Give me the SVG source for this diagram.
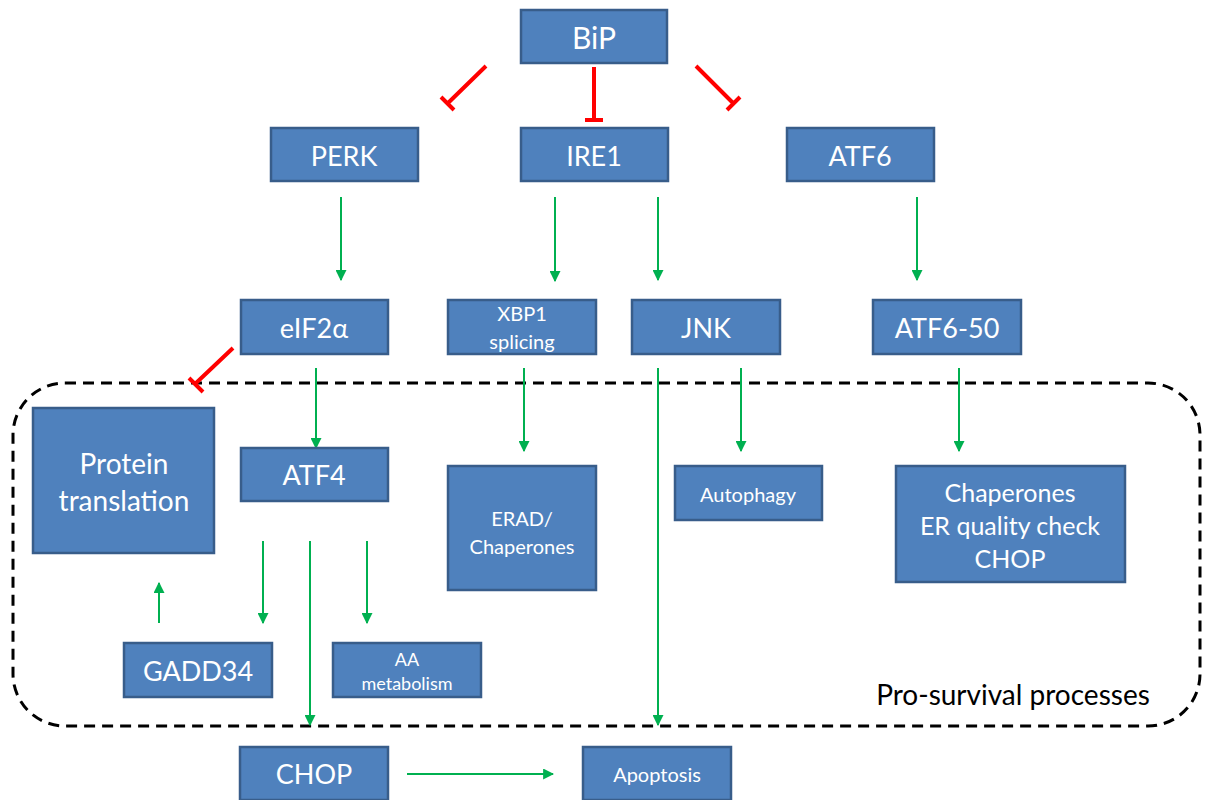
<svg xmlns="http://www.w3.org/2000/svg" width="1206" height="800" viewBox="0 0 1206 800">
<defs>
<marker id="ah" viewBox="0 0 10 10" refX="9" refY="5" markerWidth="5.5" markerHeight="5.5" orient="auto" markerUnits="strokeWidth"><path d="M0,0 L10,5 L0,10 z" fill="#00B050"/></marker>
<style>
.box{fill:#4F81BD;stroke:#385D8A;stroke-width:2.5}
.t{font-family:Lato,"Open Sans",sans-serif;fill:#fff;text-anchor:middle;dominant-baseline:central}
.act{stroke:#00B050;stroke-width:2;fill:none;marker-end:url(#ah)}
.inh{stroke:#FF0000;stroke-width:4;fill:none}
</style>
</defs>
<rect x="0" y="0" width="1206" height="800" fill="#fff"/>
<rect x="13" y="383" width="1187" height="343" rx="52" ry="52" fill="none" stroke="#000" stroke-width="3" stroke-dasharray="11,7"/>
<text x="1013" y="694" font-family="Lato,'Open Sans',sans-serif" font-size="28" fill="#000" text-anchor="middle" dominant-baseline="central">Pro-survival processes</text>
<g id="connectors">
<path class="inh" d="M486,66 L447,104 M441,97 L454,110"/>
<path class="inh" d="M594,67 L594,120 M585,120 L603,120"/>
<path class="inh" d="M696,66 L734,104 M727,110 L740,97"/>
<path class="inh" d="M233,348 L195,384 M189,378 L203,392"/>
<line class="act" x1="341" y1="197" x2="341" y2="280"/>
<line class="act" x1="555" y1="197" x2="555" y2="281"/>
<line class="act" x1="658" y1="197" x2="658" y2="280"/>
<line class="act" x1="917" y1="197" x2="917" y2="280"/>
<line class="act" x1="316" y1="368" x2="316" y2="448"/>
<line class="act" x1="524" y1="368" x2="524" y2="451"/>
<line class="act" x1="658" y1="368" x2="658" y2="725"/>
<line class="act" x1="741" y1="368" x2="741" y2="451"/>
<line class="act" x1="959" y1="368" x2="959" y2="451"/>
<line class="act" x1="263" y1="541" x2="263" y2="623"/>
<line class="act" x1="310" y1="541" x2="310" y2="725"/>
<line class="act" x1="367" y1="541" x2="367" y2="623"/>
<line class="act" x1="159" y1="623" x2="159" y2="583"/>
<line class="act" x1="407" y1="774" x2="553" y2="774"/>
</g>
<g id="bip"><rect class="box" x="521" y="10" width="146" height="53"/><text class="t" x="594" y="37" font-size="30">BiP</text></g>
<g id="perk"><rect class="box" x="271" y="128" width="147" height="53"/><text class="t" x="344" y="155" font-size="27">PERK</text></g>
<g id="ire1"><rect class="box" x="521" y="128" width="147" height="53"/><text class="t" x="594" y="155" font-size="27">IRE1</text></g>
<g id="atf6"><rect class="box" x="787" y="128" width="147" height="53"/><text class="t" x="860" y="155" font-size="27">ATF6</text></g>
<g id="eif2a"><rect class="box" x="241" y="300" width="147" height="54"/><text class="t" x="314" y="327" font-size="27">eIF2α</text></g>
<g id="xbp1"><rect class="box" x="448" y="300" width="148" height="54"/><text class="t" x="522" y="313" font-size="20">XBP1</text><text class="t" x="522" y="341" font-size="20">splicing</text></g>
<g id="jnk"><rect class="box" x="632" y="300" width="148" height="54"/><text class="t" x="706" y="327" font-size="27">JNK</text></g>
<g id="atf6-50"><rect class="box" x="873" y="300" width="148" height="54"/><text class="t" x="947" y="327" font-size="27">ATF6-50</text></g>
<g id="protein-translation"><rect class="box" x="33" y="408" width="181" height="145"/><text class="t" x="124" y="463" font-size="28">Protein</text><text class="t" x="124" y="500" font-size="28">translation</text></g>
<g id="atf4"><rect class="box" x="241" y="448" width="147" height="53"/><text class="t" x="314" y="474" font-size="27">ATF4</text></g>
<g id="erad"><rect class="box" x="448" y="466" width="148" height="124"/><text class="t" x="522" y="518" font-size="20">ERAD/</text><text class="t" x="522" y="546" font-size="20">Chaperones</text></g>
<g id="autophagy"><rect class="box" x="675" y="466" width="147" height="54"/><text class="t" x="748" y="494" font-size="20">Autophagy</text></g>
<g id="chaperones"><rect class="box" x="896" y="466" width="229" height="116"/><text class="t" x="1010" y="492" font-size="25">Chaperones</text><text class="t" x="1010" y="525" font-size="25">ER quality check</text><text class="t" x="1010" y="558" font-size="25">CHOP</text></g>
<g id="gadd34"><rect class="box" x="124" y="643" width="148" height="54"/><text class="t" x="198" y="670" font-size="27">GADD34</text></g>
<g id="aa-metabolism"><rect class="box" x="333" y="643" width="148" height="54"/><text class="t" x="407" y="659" font-size="18">AA</text><text class="t" x="407" y="683" font-size="18">metabolism</text></g>
<g id="chop"><rect class="box" x="240" y="747" width="148" height="53"/><text class="t" x="314" y="773" font-size="27">CHOP</text></g>
<g id="apoptosis"><rect class="box" x="583" y="747" width="148" height="53"/><text class="t" x="657" y="774" font-size="20">Apoptosis</text></g>
</svg>
